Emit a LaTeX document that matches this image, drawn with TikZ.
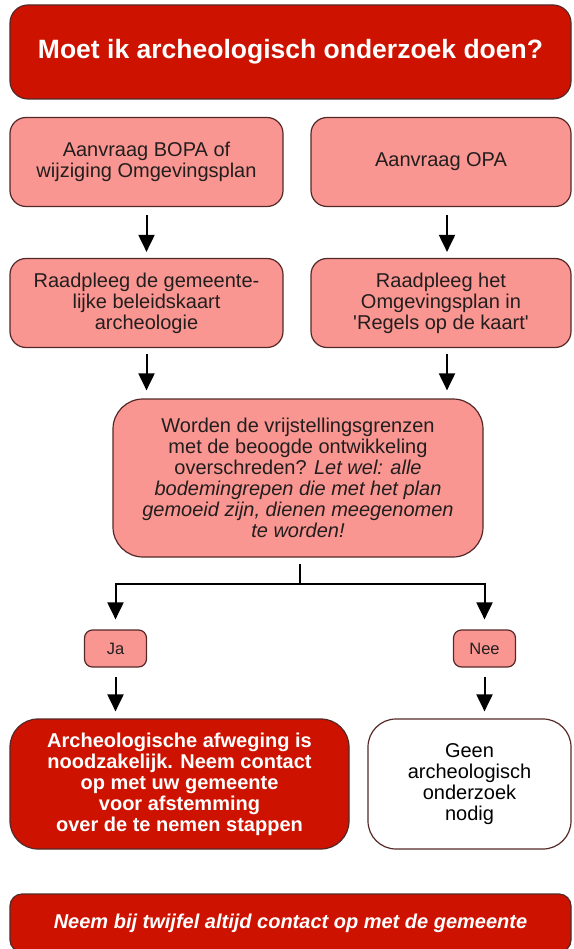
\documentclass[tikz,border=0pt]{standalone}
\usepackage{fontspec}
\setmainfont{Liberation Sans}[Ligatures=TeXOff]
\usetikzlibrary{arrows.meta}
\definecolor{alarmred}{RGB}{205,18,0}
\definecolor{salmon}{RGB}{250,150,146}
\definecolor{rim}{RGB}{85,40,40}
\definecolor{ink}{RGB}{35,30,30}

\begin{document}
\begin{tikzpicture} [
                x=1pt, y=-1pt,
                box/.style={draw=rim,line width=1.2pt,align=center,inner sep=0pt,
                    font=\fontsize{20}{21}\selectfont},
                pink box/.style={box,fill=salmon,text=ink,rounded corners=16pt,minimum height=89pt},
                red box/.style={box,fill=alarmred,text=white,rounded corners=18pt,
                    font=\bfseries\fontsize{20}{21}\selectfont},
                answer/.style={box,fill=salmon,text=ink,rounded corners=8pt,
                    minimum width=62pt,minimum height=37pt,font=\fontsize{16.5}{18}\selectfont},
                arrow/.style={draw,line width=2pt,-{Triangle[length=17pt,width=16pt]}},
                joint/.style={draw,line width=2pt},
            ]
            \useasboundingbox (0,0) rectangle (573,949);
            \clip (0,0) rectangle (573,949);
            % Title bar on top
            \node[red box,minimum width=561pt,minimum height=94pt,
                font=\bfseries\fontsize{26.5}{30}\selectfont] (titel) at (290.5,52)
                {Moet ik archeologisch onderzoek doen?};
            % First we draw the two columns of steps
            \foreach \pos/\name/\boxw/\label in {
                    {(146.5,162)/bopa/273/{Aanvraag BOPA of\\wijziging Omgevingsplan}},
                    {(441,162)/opa/260/{Aanvraag OPA}},
                    {(146.5,303)/kaart/273/{Raadpleeg de gemeente-\\lijke beleidskaart\\archeologie}},
                    {(441,303)/regels/260/{Raadpleeg het\\Omgevingsplan in\\'Regels op de kaart'}}}
                \node[pink box,minimum width=\boxw pt] (\name) at \pos {\label};
            % The question
            \node[pink box,rounded corners=30pt,minimum width=370pt,minimum height=158pt]
                (vraag) at (298,478)
                {Worden de vrijstellingsgrenzen\\
                met de beoogde ontwikkeling\\
                overschreden? \textit{Let wel: alle}\\
                \textit{bodemingrepen die met het plan}\\
                \textit{gemoeid zijn, dienen meegenomen}\\
                \textit{te worden!}};
            % Answers and outcomes
            \node[answer] (ja) at (115.5,648.5) {Ja};
            \node[answer] (nee) at (484.5,648.5) {Nee};
            \node[red box,rounded corners=28pt,minimum width=339pt,minimum height=130pt]
                (afweging) at (179.5,784)
                {Archeologische afweging is\\noodzakelijk. Neem contact\\op met uw gemeente\\voor afstemming\\over de te nemen stappen};
            \node[box,fill=white,text=black,rounded corners=28pt,minimum width=203pt,minimum height=130pt]
                (geen) at (469.5,784) {Geen\\archeologisch\\onderzoek\\nodig};
            \node[red box,rounded corners=12pt,minimum width=561pt,minimum height=58pt,
                font=\bfseries\itshape\fontsize{20}{21}\selectfont] (twijfel) at (290.5,923)
                {Neem bij twijfel altijd contact op met de gemeente};
            % Connect the steps with arrows
            \foreach \source/\dest/\dx in {bopa/kaart/0, opa/regels/6}
                \path[arrow,shorten <=8pt,shorten >=6pt]
                    ([xshift=\dx pt]\source.south) -- ([xshift=\dx pt]\dest.north);
            \foreach \source/\dx in {kaart/0, regels/6}
                \path[arrow,shorten <=6pt,shorten >=8pt]
                    ([xshift=\dx pt]\source.south) -- ([xshift=\dx pt]\source.south |- vraag.north);
            \coordinate (split) at (300,584);
            \path[joint,shorten <=6pt] (vraag.south -| split) -- (split);
            \foreach \dest in {ja, nee}
                \path[arrow,shorten >=10pt] (split) -| (\dest.north);
            \foreach \source/\dest in {ja/afweging, nee/geen}
                \path[arrow,shorten <=9pt,shorten >=7pt] (\source.south) -- (\source.south |- \dest.north);
        \end{tikzpicture}
\end{document}
